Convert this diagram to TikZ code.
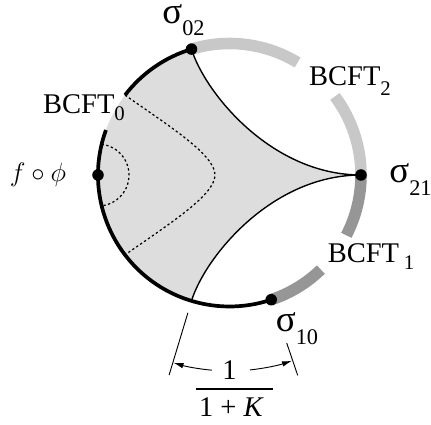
\documentclass[tikz,border=0pt]{standalone}
\usepackage{fontspec}
\setmainfont{Liberation Serif}
\usetikzlibrary{arrows.meta}
\definecolor{BandLight}{RGB}{200,200,200}
\definecolor{BandDark}{RGB}{150,150,150}
\definecolor{RegionGray}{RGB}{221,221,221}
\newcommand{\lowsub}[2]{\raisebox{-#1}{\fontsize{13.5}{14}\selectfont #2}}
\newcommand{\sigsub}[2]{\raisebox{-#1}{\fontsize{14.5}{15}\selectfont #2}}
\tikzset{
  txt/.style={inner sep=0pt,font=\fontsize{18.5}{20}\selectfont},
  sigtxt/.style={inner sep=0pt,font=\fontsize{24}{26}\selectfont},
  dot/.style={circle,fill=black,inner sep=0pt,minimum size=7.5pt},
  edge0/.style={line width=2.4pt,draw=black},
  band/.style={line width=7.5pt},
  geo/.style={line width=0.9pt},
  dotline/.style={line width=0.8pt,dash pattern=on 1.5pt off 1.6pt},
  dimline/.style={line width=0.6pt},
  dimarrow/.style={-{Latex[length=6.5pt,width=3.6pt]},line width=0.6pt}
}

\begin{document}
\begin{tikzpicture}[x=0.022814cm,y=0.022814cm]
    \useasboundingbox (-229.5,-250) rectangle (201.5,175);
    % points on the rim
    \coordinate (s02) at (106.8:131.5);
    \coordinate (s21) at (0:131.5);
    \coordinate (s10) at (-71.5:131.5);
    \coordinate (sf) at (180:131.5);
    \coordinate (s00) at (253.2:131.5);
    % shaded region
    \fill[RegionGray] (s02) arc[start angle=106.8,end angle=253.2,radius=131.5]
      .. controls +(73:45) and +(180:90) .. (s21)
      .. controls +(180:90) and +(-73:45) .. (s02);
    % boundary pieces
    \draw[band,BandLight] (s02) arc[start angle=106.8,end angle=58.8,radius=131.5];
    \draw[band,BandLight] (36.7:131.5) arc[start angle=36.7,end angle=0,radius=131.5];
    \draw[band,BandDark] (s21) arc[start angle=0,end angle=-27.3,radius=131.5];
    \draw[band,BandDark] (-46:131.5) arc[start angle=-46,end angle=-71.5,radius=131.5];
    \draw[edge0] (s02) arc[start angle=106.8,end angle=142.6,radius=131.5];
    \draw[edge0] (160:131.5) arc[start angle=160,end angle=288.5,radius=131.5];
    % inner curves
    \draw[geo] (s00) .. controls +(73:45) and +(180:90) .. (s21);
    \draw[geo] (s21) .. controls +(180:90) and +(-73:45) .. (s02);
    \coordinate (wa) at (142.6:131.5);
    \coordinate (wt) at (-14.5,0);
    \coordinate (wb) at (217.4:131.5);
    \draw[dotline] (wa) .. controls +(-35:55) and +(90:20) .. (wt)
      .. controls +(-90:20) and +(35:55) .. (wb);
    \draw[dotline] (166.5:131.5) arc[start angle=83.3,end angle=-83.3,radius=31];
    % marked points
    \node[dot] (p02) at (s02) {};
    \node[dot] (p21) at (s21) {};
    \node[dot] (p10) at (s10) {};
    \node[dot] (pf) at (sf) {};
    % labels
    \node[sigtxt] (l02) at (-46,155) {σ\sigsub{7.8pt}{02}};
    \node[sigtxt] (l21) at (181,-5) {σ\sigsub{8.4pt}{21}};
    \node[sigtxt] (l10) at (67.5,-154) {σ\sigsub{8.4pt}{10}};
    \node[txt] (lb0) at (-145.5,67) {BCFT\lowsub{4.5pt}{0}};
    \node[txt] (lb2) at (120.5,94) {BCFT\lowsub{6.5pt}{2}};
    \node[txt] (lb1) at (141.5,-82) {BCFT\,\lowsub{4.5pt}{1}};
    \node[txt] (lf) at (-191.5,0) {$f\circ\phi$};
    % angular width
    \coordinate (ea1) at (253.2:144);
    \coordinate (ea2) at (253.2:209);
    \coordinate (eb1) at (288.8:177.6);
    \coordinate (eb2) at (288.8:211.7);
    \draw[dimline] (ea1) -- (ea2);
    \draw[dimline] (eb1) -- (eb2);
    \node[txt] (num) at (0,-195) {1};
    \draw[dimarrow] (264.8:196) arc[start angle=264.8,end angle=253.4,radius=196];
    \draw[dimarrow] (276:196) arc[start angle=276,end angle=288.6,radius=196];
    \coordinate (barl) at (-33.5,-214);
    \coordinate (barr) at (43.5,-214);
    \draw[line width=0.9pt] (barl) -- (barr);
    \node[txt] (den) at (2,-232.5) {1 + \textit{K}};
\end{tikzpicture}
\end{document}
